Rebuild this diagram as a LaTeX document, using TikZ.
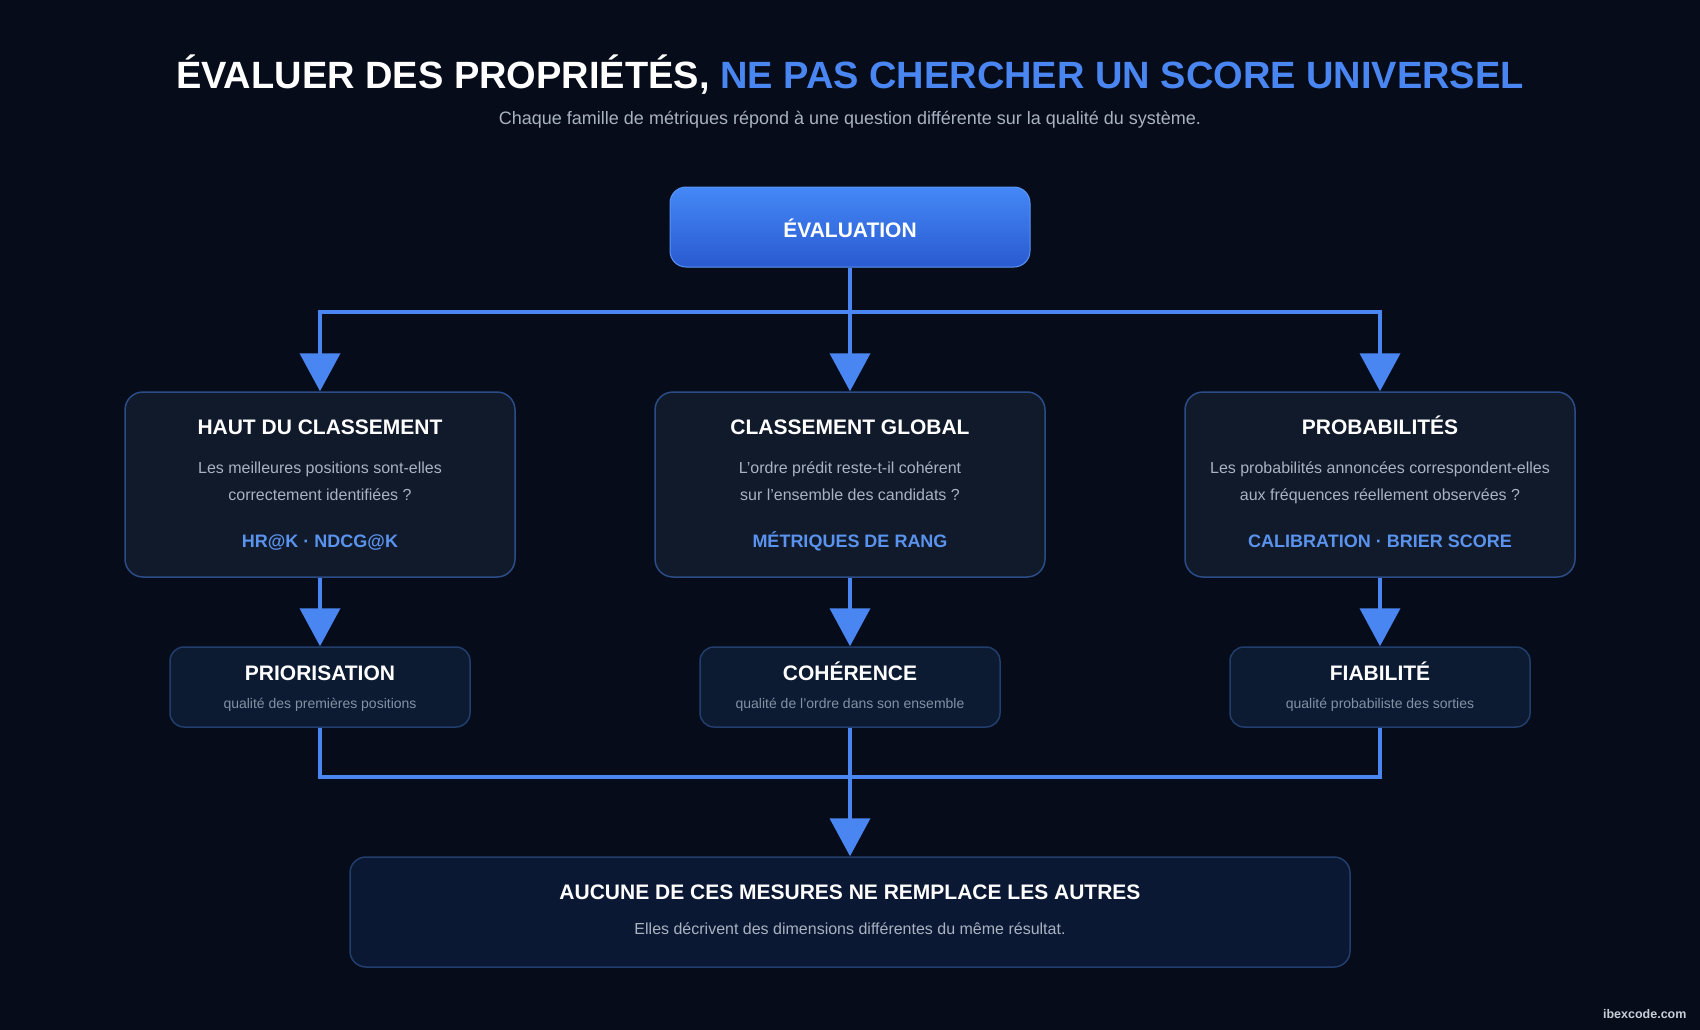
\documentclass[tikz,border=0pt]{standalone}
\usepackage{fontspec}
\setmainfont{Liberation Sans}
\usepackage{tikz}
\usetikzlibrary{arrows.meta,positioning,shapes}
\definecolor{bg}{HTML}{060C1A}
\definecolor{accent}{HTML}{4A86F2}
\definecolor{cardfill}{HTML}{111A2B}
\definecolor{cardline}{HTML}{2B4C86}
\definecolor{smallfill}{HTML}{0C1A32}
\definecolor{smallline}{HTML}{213E6C}
\definecolor{qtext}{HTML}{A9B2C1}
\definecolor{subgray}{HTML}{8490A4}
\definecolor{metric}{HTML}{5A93EE}
\newcommand{\fsz}[1]{\fontsize{#1}{#1}\selectfont}

\begin{document}
\begin{tikzpicture}[x=1pt, y=-1pt,
	card/.style={draw=cardline, line width=1.5pt, fill=cardfill, rounded corners=18pt, minimum width=390pt, minimum height=185pt},
	small/.style={draw=smallline, line width=1.5pt, fill=smallfill, rounded corners=14pt, minimum width=300pt, minimum height=80pt},
	head/.style={anchor=base, text=white, font=\bfseries\fsz{21}},
	quest/.style={anchor=base, text=qtext, font=\fsz{16}},
	metr/.style={anchor=base, text=metric, font=\bfseries\fsz{18}},
	note/.style={anchor=base, text=subgray, font=\fsz{14}},
	flow/.style={draw=accent, line width=4pt, -{Triangle[width=40pt,length=38pt]}},
	link/.style={draw=accent, line width=4pt}]
	\fill[bg] (0,0) rectangle (1700,1030);
	\useasboundingbox (0,0) rectangle (1700,1030);

	\node[anchor=base, font=\bfseries\fsz{38}] (title) at (850,89) {\color{white}ÉVALUER DES PROPRIÉTÉS, \color{accent}NE PAS CHERCHER UN SCORE UNIVERSEL};
	\node[anchor=base, text=qtext, font=\fsz{18}] (subtitle) at (850,125) {Chaque famille de métriques répond à une question différente sur la qualité du système.};

	\node[draw={rgb,255:red,90;green,149;blue,245}, line width=1pt, rounded corners=16pt, top color={rgb,255:red,68;green,136;blue,246}, bottom color={rgb,255:red,42;green,90;blue,208}, minimum width=360pt, minimum height=80pt] (eval) at (850,227) {};
	\node[head] (eval-t) at (850,237) {ÉVALUATION};

		\node[card] (hc) at (320,484.5) {};
		\node[head] (hc-t) at (320,434) {HAUT DU CLASSEMENT};
		\node[quest] (hc-q1) at (320,473) {Les meilleures positions sont-elles};
		\node[quest] (hc-q2) at (320,500) {correctement identifiées ?};
		\node[metr] (hc-m) at (320,547) {HR@K · NDCG@K};

		\node[card] (cg) at (850,484.5) {};
		\node[head] (cg-t) at (850,434) {CLASSEMENT GLOBAL};
		\node[quest] (cg-q1) at (850,473) {L’ordre prédit reste-t-il cohérent};
		\node[quest] (cg-q2) at (850,500) {sur l’ensemble des candidats ?};
		\node[metr] (cg-m) at (850,547) {MÉTRIQUES DE RANG};

		\node[card] (pb) at (1380,484.5) {};
		\node[head] (pb-t) at (1380,434) {PROBABILITÉS};
		\node[quest] (pb-q1) at (1380,473) {Les probabilités annoncées correspondent-elles};
		\node[quest] (pb-q2) at (1380,500) {aux fréquences réellement observées ?};
		\node[metr] (pb-m) at (1380,547) {CALIBRATION · BRIER SCORE};

		\node[small] (pr) at (320,687) {};
		\node[head] (pr-t) at (320,680) {PRIORISATION};
		\node[note] (pr-n) at (320,708) {qualité des premières positions};

		\node[small] (co) at (850,687) {};
		\node[head] (co-t) at (850,680) {COHÉRENCE};
		\node[note] (co-n) at (850,708) {qualité de l’ordre dans son ensemble};

		\node[small] (fi) at (1380,687) {};
		\node[head] (fi-t) at (1380,680) {FIABILITÉ};
		\node[note] (fi-n) at (1380,708) {qualité probabiliste des sorties};

	\node[draw=smallline, line width=1.5pt, fill={rgb,255:red,11;green,24;blue,51}, rounded corners=16pt, minimum width=1000pt, minimum height=110pt] (fin) at (850,912) {};
	\node[head] (fin-t) at (850,899) {AUCUNE DE CES MESURES NE REMPLACE LES AUTRES};
	\node[quest] (fin-n) at (850,934) {Elles décrivent des dimensions différentes du même résultat.};

	\node[anchor=base east, text={rgb,255:red,200;green,205;blue,214}, font=\bfseries\fsz{12.5}] (mark) at (1690,1018) {ibexcode.com};

	% connecteurs
	\coordinate (split) at (850,312);
	\coordinate (join) at (850,777);
	\draw[flow] (eval.south) -- (cg.north);
	\draw[flow] (split) -| (hc.north);
	\draw[flow] (split) -| (pb.north);
	\draw[flow] (hc.south) -- (pr.north);
	\draw[flow] (cg.south) -- (co.north);
	\draw[flow] (pb.south) -- (fi.north);
	\draw[link] (pr.south) |- (join) -| (fi.south);
	\draw[flow] (co.south) -- (fin.north);
\end{tikzpicture}
\end{document}
